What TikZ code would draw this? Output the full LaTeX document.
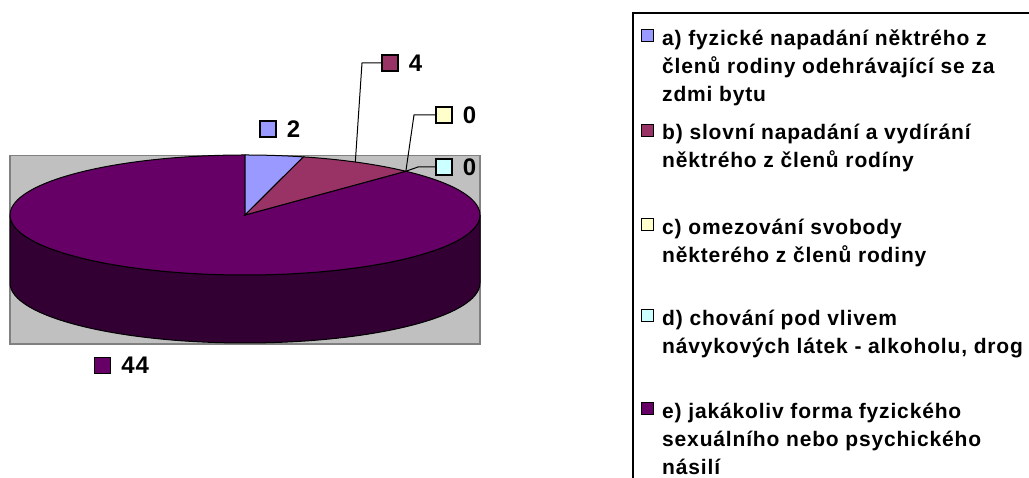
\documentclass[tikz,border=0pt]{standalone}
\usepackage{fontspec}
\setmainfont{Liberation Sans}
\newfontfamily\chartfont[LetterSpace=4]{Liberation Sans}
\usetikzlibrary{positioning}
\definecolor{sliceA}{HTML}{9999FF}
\definecolor{sliceB}{HTML}{993366}
\definecolor{sliceC}{HTML}{FFFFCC}
\definecolor{sliceD}{HTML}{CCFFFF}
\definecolor{sliceE}{HTML}{660066}
\definecolor{sideE}{HTML}{330033}
\definecolor{plotgray}{HTML}{C0C0C0}
\definecolor{plotedge}{HTML}{808080}

\begin{document}
\begin{tikzpicture}[x=1pt,y=1pt,
    swatch/.style={draw=black,line width=1.2pt,minimum size=#1,inner sep=0pt},
    lab/.style={inner sep=0pt,font=\chartfont\bfseries\fontsize{24}{28}\selectfont},
    legtext/.style={inner sep=0pt,anchor=north west,align=left,
      font=\chartfont\bfseries\fontsize{21}{28}\selectfont},
    leader/.style={line width=1pt}]
    \useasboundingbox (0,0) rectangle (1029,478);
    \pgfmathsetmacro{\rx}{235} % half axes of the pie
    \pgfmathsetmacro{\ry}{60}
    \pgfmathsetmacro{\h}{68} % height of the pie
    \coordinate (c) at (245,263);

    % plot area
    \draw[fill=plotgray,draw=plotedge,line width=1.5pt] (10,134) rectangle (480,322.3);

    % side of the pie
    \draw[fill=sideE,line width=1pt] (c) ++(180:{\rx} and {\ry})
      arc[start angle=180,end angle=360,x radius=\rx,y radius=\ry] -- ++(0,-\h)
      arc[start angle=0,end angle=-180,x radius=\rx,y radius=\ry] -- cycle;

    % top of the pie, slices
    \draw[fill=sliceE,line width=1pt] (c) -- ++(46.8:{\rx} and {\ry})
      arc[start angle=46.8,end angle=-270,x radius=\rx,y radius=\ry] -- cycle;
    \draw[fill=sliceA,line width=1pt] (c) -- ++(90:{\rx} and {\ry})
      arc[start angle=90,end angle=75.6,x radius=\rx,y radius=\ry] -- cycle;
    \draw[fill=sliceB,line width=1pt] (c) -- ++(75.6:{\rx} and {\ry})
      arc[start angle=75.6,end angle=46.8,x radius=\rx,y radius=\ry] -- cycle;

    % points on the rim for the leaders
    \path (c) ++(62:{\rx} and {\ry}) coordinate (rb);
    \path (c) ++(46.8:{\rx} and {\ry}) coordinate (rc);

    % value labels
    \foreach \n/\x/\y/\col/\v in {a/268/349/sliceA/2,b/390/415/sliceB/4,
      c/444/363/sliceC/0,d/444/311/sliceD/0,e/102.5/112.5/sliceE/44}
    {
      \node[swatch=16pt,fill=\col] (sq\n) at (\x,\y) {};
      \node[lab,right=10pt of sq\n] (v\n) {\v};
    };

    % leaders
    \coordinate (kb) at (362,415);
    \coordinate (kc) at (414,363);
    \coordinate (kd) at (418,311);
    \draw[leader] (rb) -- (kb) -- (sqb.west);
    \draw[leader] (rc) -- (kc) -- (sqc.west);
    \draw[leader] (rc) -- (kd) -- (sqd.west);

    % legend
    \draw[line width=1.5pt] (1035,465) -- (633,465) -- (633,-5);
    \foreach \n/\y/\col/\t in {
      a/433/sliceA/{a) fyzické napadání něktrého z\\členů rodiny odehrávající se za\\zdmi bytu},
      b/338.5/sliceB/{b) slovní napadání a vydírání\\něktrého z členů rodíny},
      c/244/sliceC/{c) omezování svobody\\některého z členů rodiny},
      d/153/sliceD/{d) chování pod vlivem\\návykových látek - alkoholu, drog},
      e/60/sliceE/{e) jakákoliv forma fyzického\\sexuálního nebo psychického\\násilí}}
    {
      \node[swatch=12pt,line width=1pt,fill=\col] (lg\n) at (647,\y+9) {};
      \node[legtext] (lt\n) at (662,\y+20) {\rule{0pt}{20pt}\t};
    };
\end{tikzpicture}
\end{document}
